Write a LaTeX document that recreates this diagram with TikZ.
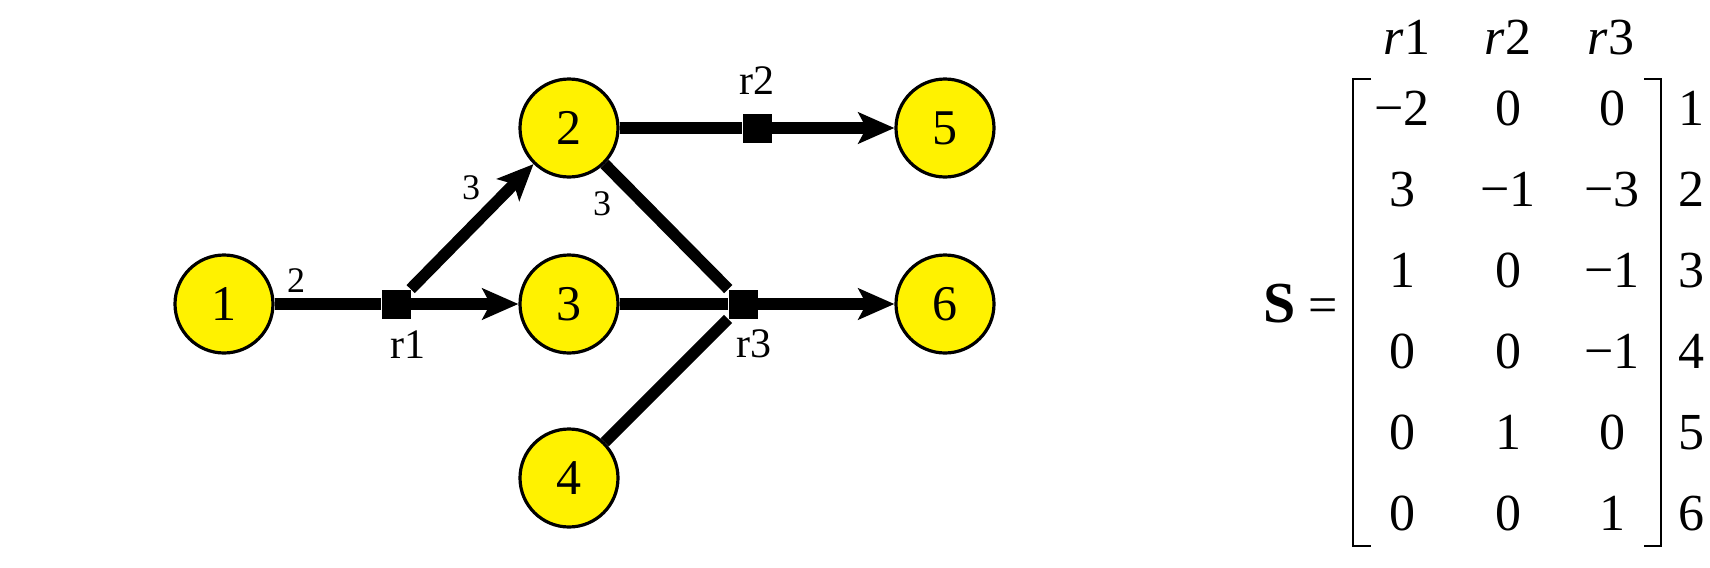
\documentclass[tikz,border=0pt]{standalone}
\usepackage{fontspec}
\setmainfont{Liberation Serif}
\usetikzlibrary{arrows.meta}
\begin{document}
\begin{tikzpicture}[x=0.5pt,y=-0.5pt,
  met/.style={circle, draw=black, fill=yellow, line width=1.6pt, minimum size=49pt, inner sep=0pt, font=\fontsize{25}{28}\selectfont},
  rxn/.style={rectangle, fill=black, minimum size=14.5pt, inner sep=0pt},
  flux/.style={line width=5.8pt},
  head/.style={-{Stealth[length=18pt,width=15.5pt,inset=4pt]}},
  rlab/.style={font=\fontsize{21}{24}\selectfont, inner sep=0pt},
  clab/.style={font=\fontsize{18}{20}\selectfont, inner sep=0pt},
  ent/.style={font=\fontsize{26}{30}\selectfont, inner sep=0pt, anchor=base},
  brk/.style={line width=1.3pt},
]
\useasboundingbox (0,0) rectangle (1710,568);

% reaction squares
\node[rxn] (r1) at (396,304) {};
\node[rxn] (r2) at (757,128) {};
\node[rxn] (r3) at (743,304) {};

% metabolites
\node[met] (n1) at (224,304) {1};
\node[met] (n2) at (569,128) {2};
\node[met] (n3) at (569,304) {3};
\node[met] (n4) at (569,478) {4};
\node[met] (n5) at (945,128) {5};
\node[met] (n6) at (945,304) {6};

% fluxes
\draw[flux] (n1) -- (r1);
\draw[flux,head] (r1) -- (n3);
\draw[flux,head] (r1) -- (n2);
\draw[flux] (n2) -- (r2);
\draw[flux,head] (r2) -- (n5);
\draw[flux] (n3) -- (r3);
\draw[flux] (n2) -- (r3);
\draw[flux] (n4) -- (r3);
\draw[flux,head] (r3) -- (n6);

% redraw squares on top
\node[rxn] at (r1.center) {};
\node[rxn] at (r2.center) {};
\node[rxn] at (r3.center) {};

% labels
\node[rlab] (l1) at (408,345) {r1};
\node[rlab] (l2) at (757,81) {r2};
\node[rlab] (l3) at (754,344) {r3};
\node[clab] (c1) at (296,281) {2};
\node[clab] (c2) at (471,188) {3};
\node[clab] (c3) at (602,204) {3};

% matrix
\node[ent, font=\fontsize{29}{32}\selectfont\bfseries] (S) at (1280,322) {S};
\node[ent] (eq) at (1323,322) {=};
\draw[brk] (1371,79) -- (1353,79) -- (1353,546) -- (1371,546);
\draw[brk] (1644,79) -- (1661,79) -- (1661,546) -- (1644,546);

\node[ent] (h1) at (1407,54) {\textit{r}1};
\node[ent] (h2) at (1508,54) {\textit{r}2};
\node[ent] (h3) at (1611,54) {\textit{r}3};

\foreach \y/\a/\b/\c/\k in {107/−2/0/0/1, 188/3/−1/−3/2, 269/1/0/−1/3, 350/0/0/−1/4, 431/0/1/0/5, 512/0/0/1/6}{
  \node[ent] (a\k) at (1402,\y+18) {\a};
  \node[ent] (b\k) at (1508,\y+18) {\b};
  \node[ent] (c\k) at (1612,\y+18) {\c};
  \node[ent] (m\k) at (1691,\y+18) {\k};
}
\end{tikzpicture}
\end{document}
